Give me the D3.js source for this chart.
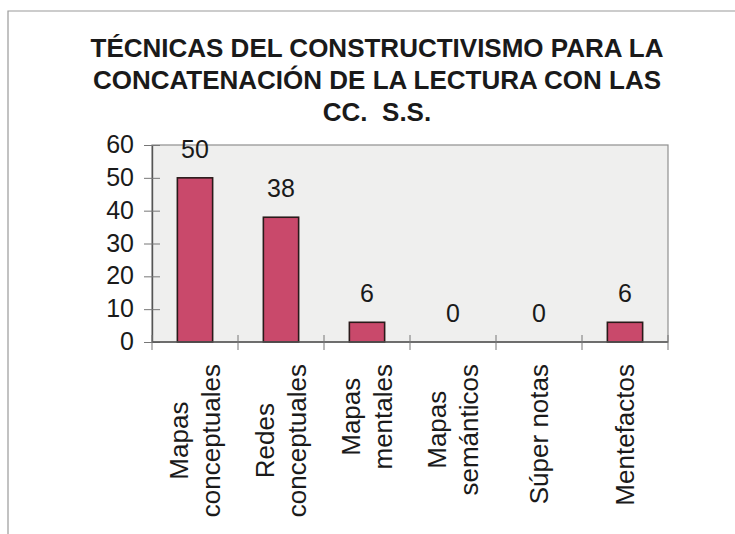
<!DOCTYPE html>
<html>
<head>
<meta charset="utf-8">
<script src="https://cdn.jsdelivr.net/npm/d3@7"></script>
<style>
  html, body { margin: 0; padding: 0; background: #ffffff; }
  svg { display: block; }
  text { font-family: "Liberation Sans", Arial, sans-serif; fill: #1a1a1a; }
</style>
</head>
<body>
<svg id="chart" width="735" height="534"></svg>
<script>
const titleLines = ["TÉCNICAS DEL CONSTRUCTIVISMO PARA LA", "CONCATENACIÓN DE LA LECTURA CON LAS", "CC.  S.S."];
const categories = ["Mapas conceptuales", "Redes conceptuales", "Mapas mentales", "Mapas semánticos", "Súper notas", "Mentefactos"];
const categoryLines = [["Mapas", "conceptuales"], ["Redes", "conceptuales"], ["Mapas", "mentales"], ["Mapas", "semánticos"], ["Súper notas"], ["Mentefactos"]];
const values = [50, 38, 6, 0, 0, 6];
const yTicks = [0, 10, 20, 30, 40, 50, 60];

const svg = d3.select("#chart");
const plot = { left: 152, right: 668, top: 145, bottom: 342 };

// outer chart frame (only top and left visible in the scan)
svg.append("path")
  .attr("d", "M8,534 L8,11 L735,11")
  .attr("fill", "none").attr("stroke", "#9a9a9a").attr("stroke-width", 1.2);

// title
svg.append("g").selectAll("text").data(titleLines).join("text")
  .attr("x", 377).attr("y", (d, i) => 57 + i * 32)
  .attr("text-anchor", "middle")
  .style("font-size", "26px").style("font-weight", "bold")
  .style("white-space", "pre")
  .text(d => d);

const x = d3.scaleBand().domain(categories).range([plot.left, plot.right]).paddingInner(0.59).paddingOuter(0.295);
const y = d3.scaleLinear().domain([0, 60]).range([plot.bottom, plot.top]);

// plot area
svg.append("rect")
  .attr("x", plot.left).attr("y", plot.top)
  .attr("width", plot.right - plot.left).attr("height", plot.bottom - plot.top)
  .attr("fill", "#efefee").attr("stroke", "#8f8f8f").attr("stroke-width", 1.2);

// bars
svg.append("g").selectAll("rect").data(values).join("rect")
  .attr("x", (d, i) => x(categories[i]))
  .attr("y", d => y(d))
  .attr("width", x.bandwidth())
  .attr("height", d => y(0) - y(d))
  .attr("fill", "#c9496b").attr("stroke", "#2a1a1a").attr("stroke-width", 1.6);

// y axis
const yAxis = d3.axisLeft(y).tickValues(yTicks).tickSize(0).tickPadding(18);
const gy = svg.append("g").attr("transform", `translate(${plot.left},0)`).call(yAxis);
gy.select(".domain").attr("stroke", "#555").attr("stroke-width", 1.4);
gy.selectAll(".tick text").style("font-size", "25px").attr("fill", "#1a1a1a").attr("dy", "0.3em");
gy.selectAll(".tick").append("line").attr("x1", -8).attr("x2", 8).attr("stroke", "#777").attr("stroke-width", 1);

// x axis line and boundary ticks
const step = x.step();
const bounds = d3.range(categories.length + 1).map(i => plot.left + i * step);
svg.append("line").attr("x1", plot.left).attr("x2", plot.right).attr("y1", y(0)).attr("y2", y(0))
  .attr("stroke", "#555").attr("stroke-width", 1.4);
svg.append("g").selectAll("line").data(bounds).join("line")
  .attr("x1", d => d).attr("x2", d => d).attr("y1", y(0) - 7).attr("y2", y(0) + 8)
  .attr("stroke", "#777").attr("stroke-width", 1);

// value labels
svg.append("g").selectAll("text").data(values).join("text")
  .attr("x", (d, i) => x(categories[i]) + x.bandwidth() / 2)
  .attr("y", d => y(d) - 20)
  .attr("text-anchor", "middle")
  .style("font-size", "25px")
  .text(d => d);

// category labels, rotated
const lineH = 32;
const topY = 364;
categoryLines.forEach((lines, i) => {
  const cx = x(categories[i]) + x.bandwidth() / 2;
  const g = svg.append("g");
  const texts = g.selectAll("text").data(lines).join("text")
    .style("font-size", "26px")
    .text(d => d);
  let maxLen = 0;
  texts.each(function() { maxLen = Math.max(maxLen, this.getComputedTextLength()); });
  const centerY = topY + maxLen / 2;
  const n = lines.length;
  texts
    .attr("text-anchor", "middle")
    .attr("transform", (d, j) => {
      const baseX = cx + 9 + (j - (n - 1) / 2) * lineH;
      return `translate(${baseX},${centerY}) rotate(-90)`;
    });
});
</script>
</body>
</html>
